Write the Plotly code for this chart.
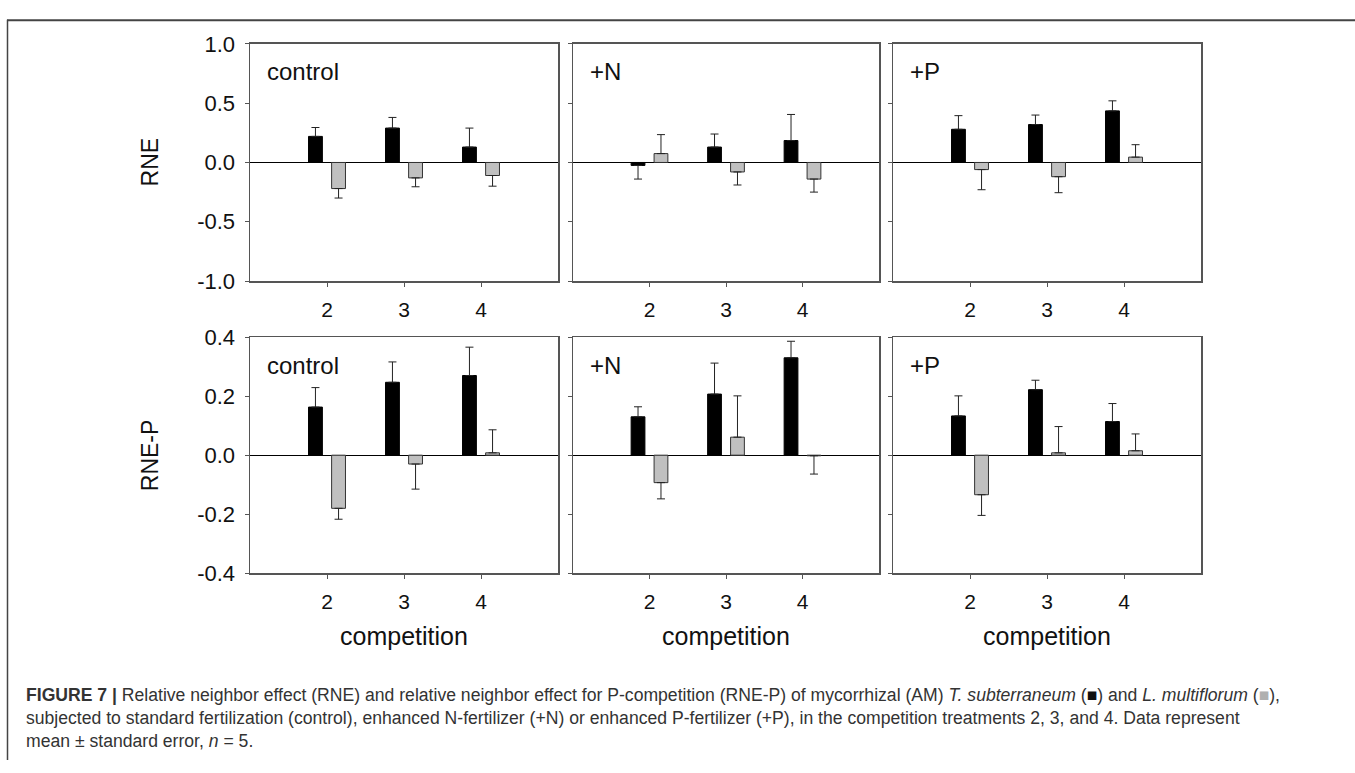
import plotly.graph_objects as go

W, H = 1355, 773

competition = [2, 3, 4]
treatments = ["control", "+N", "+P"]

# RNE (top row): mean and standard error, T. subterraneum (black) / L. multiflorum (gray)
rne_ts_mean = {"control": [0.22, 0.29, 0.13], "+N": [-0.025, 0.13, 0.185], "+P": [0.28, 0.32, 0.435]}
rne_ts_se = {"control": [0.075, 0.09, 0.16], "+N": [0.115, 0.11, 0.22], "+P": [0.115, 0.08, 0.085]}
rne_lm_mean = {"control": [-0.22, -0.13, -0.11], "+N": [0.075, -0.08, -0.14], "+P": [-0.06, -0.12, 0.045]}
rne_lm_se = {"control": [0.08, 0.075, 0.09], "+N": [0.16, 0.11, 0.11], "+P": [0.17, 0.135, 0.105]}

# RNE-P (bottom row)
rnep_ts_mean = {"control": [0.163, 0.247, 0.27], "+N": [0.13, 0.207, 0.33], "+P": [0.133, 0.222, 0.114]}
rnep_ts_se = {"control": [0.066, 0.069, 0.096], "+N": [0.034, 0.105, 0.056], "+P": [0.068, 0.032, 0.061]}
rnep_lm_mean = {"control": [-0.18, -0.03, 0.008], "+N": [-0.093, 0.061, -0.002], "+P": [-0.134, 0.008, 0.015]}
rnep_lm_se = {"control": [0.037, 0.085, 0.078], "+N": [0.055, 0.14, 0.062], "+P": [0.07, 0.089, 0.057]}

row_ranges = [[-1.0, 1.0], [-0.4, 0.4]]
row_ticks = [[-1.0, -0.5, 0.0, 0.5, 1.0], [-0.4, -0.2, 0.0, 0.2, 0.4]]
row_titles = ["RNE", "RNE-P"]

caption_lines = [
    "<b>FIGURE 7 |</b> Relative neighbor effect (RNE) and relative neighbor effect for P-competition (RNE-P) of mycorrhizal (AM) "
    "<i>T. subterraneum</i> (<span style='color:#111111'>■</span>) and <i>L. multiflorum</i> (<span style='color:#b0b0b0'>■</span>),",
    "subjected to standard fertilization (control), enhanced N-fertilizer (+N) or enhanced P-fertilizer (+P), in the competition treatments 2, 3, and 4. Data represent",
    "mean ± standard error, <i>n</i> = 5.",
]

# ---- layout geometry (pixels) ----
col_px = [(250, 558), (573, 879), (893, 1201)]
row_px = [(33, 278), (336, 580)]

def px_x(x):
    return x / W

def px_y(y):
    return 1 - y / H

FONT = "Liberation Sans, Arial, sans-serif"
FRAME = "#555555"

fig = go.Figure()
layout = dict(
    width=W, height=H, margin=dict(l=0, r=0, t=0, b=0),
    paper_bgcolor="white", plot_bgcolor="white",
    showlegend=False, barmode="group", bargap=0.4, bargroupgap=0.4,
    font=dict(family=FONT, color="#111111"),
)

data_rows = [
    (rne_ts_mean, rne_ts_se, rne_lm_mean, rne_lm_se),
    (rnep_ts_mean, rnep_ts_se, rnep_lm_mean, rnep_lm_se),
]

annotations = []
k = 0
for r, (tsm, tss, lmm, lms) in enumerate(data_rows):
    for c, tr in enumerate(treatments):
        k += 1
        xa = "x" if k == 1 else f"x{k}"
        ya = "y" if k == 1 else f"y{k}"
        xkey = "xaxis" if k == 1 else f"xaxis{k}"
        ykey = "yaxis" if k == 1 else f"yaxis{k}"
        for means, ses, fill, line in [(tsm[tr], tss[tr], "#000000", "#000000"),
                                       (lmm[tr], lms[tr], "#c0c0c0", "#333333")]:
            fig.add_trace(go.Bar(
                x=competition, y=means, xaxis=xa, yaxis=ya,
                marker=dict(color=fill, line=dict(color=line, width=1)),
                error_y=dict(type="data", symmetric=False,
                             array=[s if m >= 0 else 0 for m, s in zip(means, ses)],
                             arrayminus=[s if m < 0 else 0 for m, s in zip(means, ses)],
                             color="#222222", thickness=1, width=4),
                hoverinfo="skip",
            ))
        x0, x1 = col_px[c]
        y0, y1 = row_px[r]
        layout[xkey] = dict(
            domain=[px_x(x0), px_x(x1)], anchor=ya, range=[1, 5],
            tickmode="array", tickvals=competition, ticktext=[str(v) for v in competition],
            ticks="outside", ticklen=4, tickcolor=FRAME, tickwidth=1,
            showline=True, linecolor=FRAME, linewidth=1.5, mirror=True,
            showgrid=False, zeroline=False, ticklabelstandoff=5,
            tickfont=dict(size=21, color="#111111", family=FONT),
            fixedrange=True,
        )
        layout[ykey] = dict(
            domain=[px_y(y1), px_y(y0)], anchor=xa, range=row_ranges[r],
            tickmode="array", tickvals=row_ticks[r],
            ticktext=[f"{v:.1f}" for v in row_ticks[r]],
            showticklabels=(c == 0),
            ticks="outside", ticklen=4, tickcolor=FRAME, tickwidth=1,
            showline=True, linecolor=FRAME, linewidth=1.5, mirror=True,
            showgrid=False, zeroline=True, zerolinecolor="#000000", zerolinewidth=1,
            ticklabelstandoff=5,
            tickfont=dict(size=22, color="#111111", family=FONT),
            fixedrange=True,
        )
        # panel label
        annotations.append(dict(
            text=tr, xref=f"{xa} domain", yref=f"{ya} domain",
            x=(15 / (x1 - x0)), y=1 - (29 / (y1 - y0)), xanchor="left", yanchor="middle",
            showarrow=False, font=dict(size=24, family=FONT, color="#111111"),
        ))
        if r == 1:
            annotations.append(dict(
                text="competition", xref=f"{xa} domain", yref="paper",
                x=0.5, y=px_y(645), xanchor="center", yanchor="middle",
                showarrow=False, font=dict(size=25, family=FONT, color="#111111"),
            ))
    annotations.append(dict(
        text=row_titles[r], xref="paper", yref="paper",
        x=px_x(150), y=px_y((row_px[r][0] + row_px[r][1]) / 2), xanchor="center", yanchor="middle",
        textangle=-90, showarrow=False, font=dict(size=23, family=FONT, color="#111111"),
    ))

annotations.append(dict(
    text="<br>".join(caption_lines), xref="paper", yref="paper", x=px_x(24), y=px_y(730),
    xanchor="left", yanchor="middle", align="left", showarrow=False,
    font=dict(size=17.6, family=FONT, color="#333333"),
))

layout["annotations"] = annotations
layout["shapes"] = [
    dict(type="line", xref="paper", yref="paper", x0=px_x(7), x1=1, y0=px_y(8.5), y1=px_y(8.5),
         line=dict(color="#444444", width=2)),
    dict(type="line", xref="paper", yref="paper", x0=px_x(7.5), x1=px_x(7.5), y0=px_y(8), y1=0,
         line=dict(color="#444444", width=1.5)),
]
fig.update_layout(**layout)
fig.write_html(
    "out.html",
    config={"displayModeBar": False, "staticPlot": True},
    post_script="document.body.style.margin='0';document.body.style.overflow='hidden';",
)
